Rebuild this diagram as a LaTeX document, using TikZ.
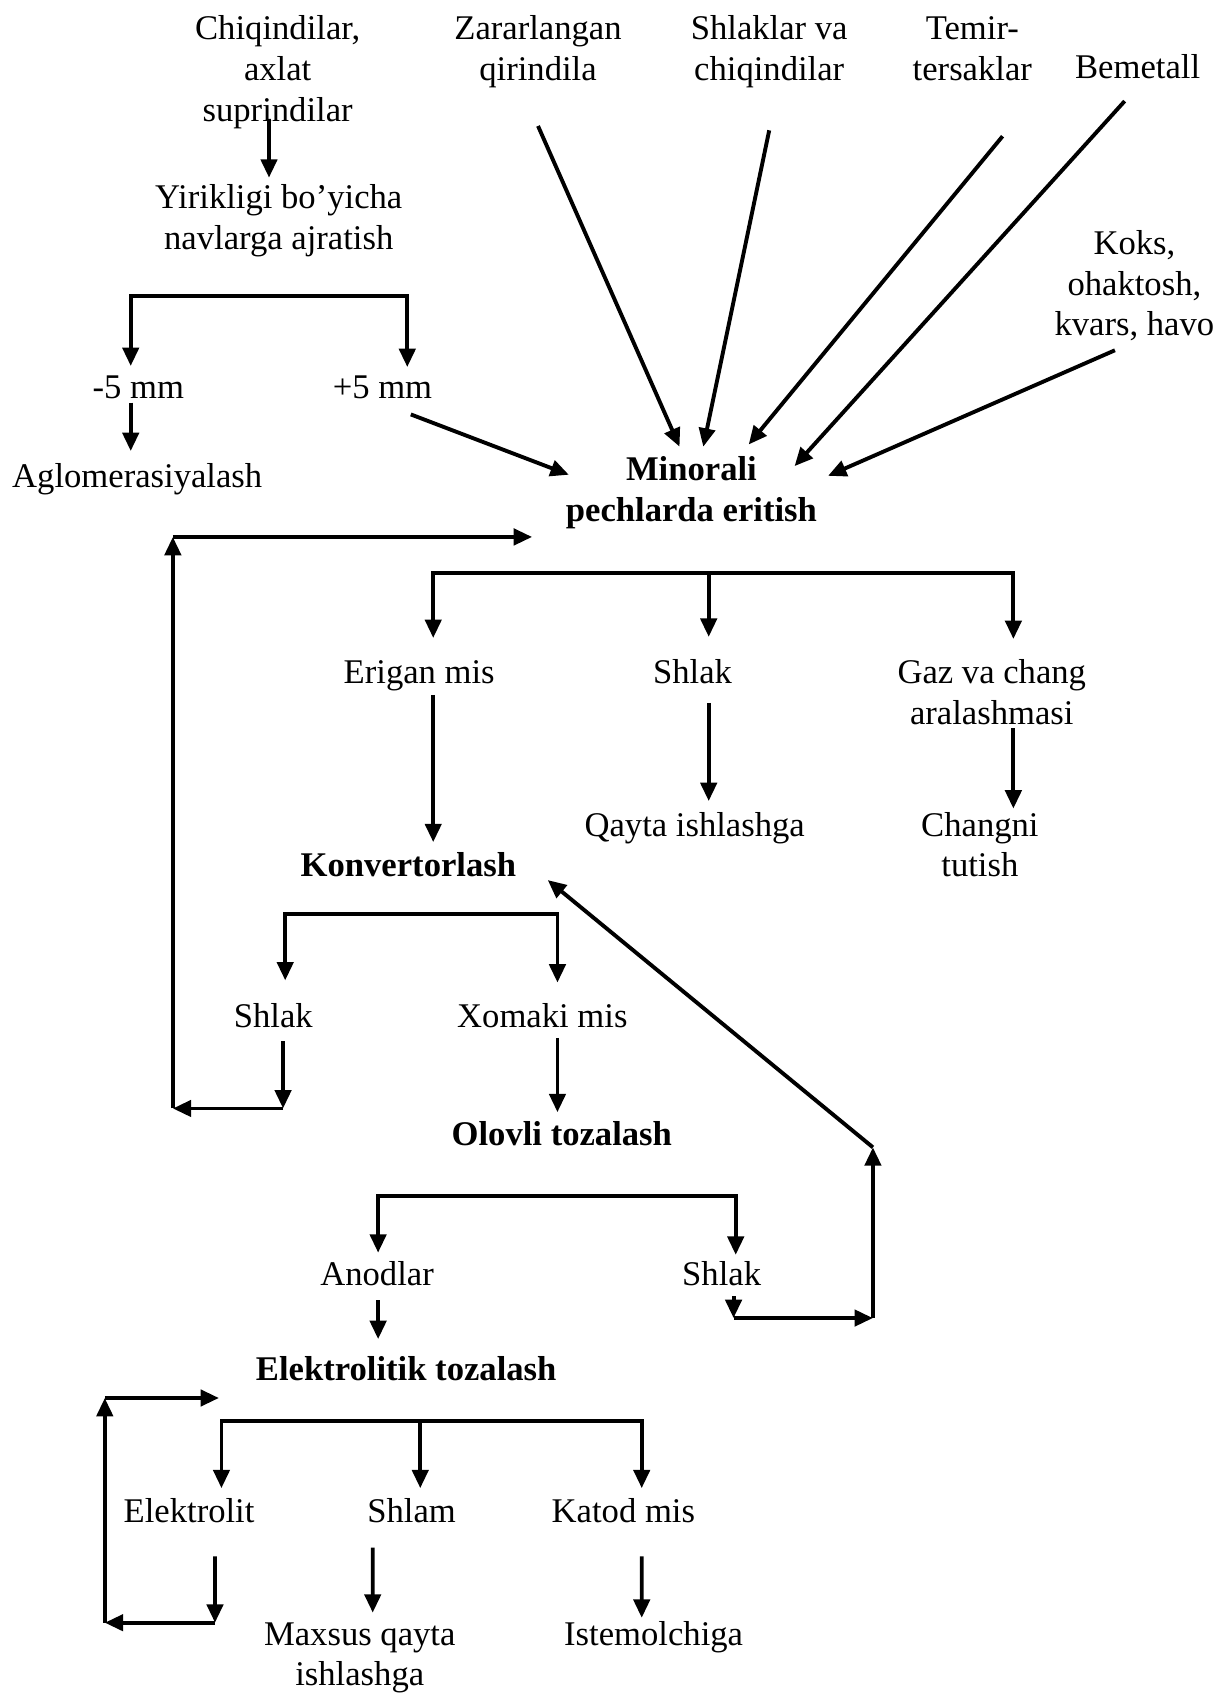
\documentclass[tikz,border=0pt]{standalone}
\usepackage{fontspec}
\setmainfont{Liberation Serif}
\usepackage{tikz}
\usetikzlibrary{arrows.meta}
\newcommand\dfont{\fontsize{22.8pt}{26.7pt}\selectfont}

\begin{document}
\begin{tikzpicture}[
  x=0.25mm,y=-0.25mm,
  font=\dfont,
  t/.style={inner sep=0.75mm,anchor=base,align=center},
  tb/.style={t,font=\dfont\bfseries},
  l/.style={line width=0.9mm,line cap=rect},
  a/.style={line width=0.9mm,-{Triangle[length=4.25mm,width=3.75mm]}},
]
\useasboundingbox (0,0) rectangle (1126,1568);
% --- inputs of the furnace (multi-line nodes sit on their last baseline) ---
\node[t] (chiq) at (257,112) {Chiqindilar,\\axlat\\suprindilar};
\node[t] (zarar) at (498,74.5) {Zararlangan\\qirindila};
\node[t] (shlk) at (712,74.5) {Shlaklar va\\chiqindilar};
\node[t] (temir) at (900,74.5) {Temir-\\tersaklar};
\node[t] (bemet) at (1053,73) {Bemetall};
\node[t] (koks) at (1050,311) {Koks,\\ohaktosh,\\kvars, havo};
\node[t] (yirik) at (258,230.5) {Yirikligi bo’yicha\\navlarga ajratish};
\node[t] (minus) at (128,369) {-5 mm};
\node[t] (plus) at (354,369) {+5 mm};
\node[t] (aglo) at (127,451) {Aglomerasiyalash};
\node[tb] (minor) at (640,482.5) {Minorali\\pechlarda eritish};
% --- products ---
\node[t] (erigan) at (388,633) {Erigan mis};
\node[t] (shlakA) at (641,633) {Shlak};
\node[t] (gaz) at (918,670.5) {Gaz va chang\\aralashmasi};
\node[t] (qayta) at (643,774) {Qayta ishlashga};
\node[t] (chang) at (907,811.5) {Changni\\tutish};
\node[tb] (konv) at (378,811) {Konvertorlash};
\node[t] (shlakB) at (253,951) {Shlak};
\node[t] (xomaki) at (502,951) {Xomaki mis};
\node[tb] (olovli) at (520,1060) {Olovli tozalash};
\node[t] (anod) at (349,1190) {Anodlar};
\node[t] (shlakC) at (668,1190) {Shlak};
\node[tb] (elektro) at (376,1278) {Elektrolitik tozalash};
\node[t] (elit) at (175,1409) {Elektrolit};
\node[t] (shlam) at (381,1409) {Shlam};
\node[t] (katod) at (577,1409) {Katod mis};
\node[t] (maxsus) at (333,1560.5) {Maxsus qayta\\ishlashga};
\node[t] (istem) at (605,1523) {Istemolchiga};

% --- sorting ---
\draw[a] ([shift={(-2mm,3mm)}]chiq.south) -- ([shift={(-2.25mm,0.75mm)}]yirik.north);
\coordinate (y1) at (121,274); \coordinate (y2) at (377,274);
\draw[l] (y1) -- (y2);
\draw[a,shorten >=1.5mm] (y1) -- (y1 |- minus.north);
\draw[a,shorten >=1.25mm] (y2) -- (y2 |- plus.north);
\draw[a,shorten >=2mm] (minus.south -| y1) -- (aglo.north -| y1);
% --- into the furnace ---
\draw[a] ([shift={(-5.75mm,-2.75mm)}]plus.south east) -- ([shift={(1.5mm,-5mm)}]minor.north west);
\draw[a] ([yshift=-8mm]zarar.south) -- ([shift={(-2.75mm,1.5mm)}]minor.north);
\draw[a] ([yshift=-9mm]shlk.south) -- ([shift={(2.75mm,1.5mm)}]minor.north);
\draw[a] ([shift={(7mm,-12mm)}]temir.south) -- ([shift={(13.25mm,2mm)}]minor.north);
\draw[a] ([shift={(-3mm,-4.25mm)}]bemet.south) -- ([shift={(-6mm,-3mm)}]minor.north east);
\draw[a] ([shift={(-4.5mm,-1.25mm)}]koks.south) -- ([shift={(1.75mm,-5.25mm)}]minor.north east);
% --- furnace outputs ---
\coordinate (m1) at (401,530); \coordinate (m2) at (656,530); \coordinate (m3) at (938,530);
\draw[l] (m1) -- (m3);
\draw[a,shorten >=4.5mm] (m1) -- (m1 |- erigan.north);
\draw[a,shorten >=4.5mm] (m2) -- (m2 |- shlakA.north);
\draw[a,shorten >=4mm] (m3) -- (m3 |- gaz.north);
\draw[a,shorten >=1.5mm] (erigan.south -| m1) -- (m1 |- konv.north);
\draw[a,shorten <=3.5mm,shorten >=1.75mm] (shlakA.south -| m2) -- (m2 |- qayta.north);
\draw[a] (gaz.south -| m3) -- (m3 |- chang.north);
% --- converter ---
\coordinate (k1) at (264,846); \coordinate (k2) at (516,846);
\draw[l] (k1) -- (k2);
\draw[a,shorten >=4.5mm] (k1) -- (k1 |- shlakB.north);
\draw[a,shorten >=4mm] (k2) -- (k2 |- xomaki.north);
\draw[a,shorten <=1.5mm,shorten >=1.25mm] (xomaki.south -| k2) -- (k2 |- olovli.north);
\coordinate (f1) at (262,1026); \coordinate (f2) at (160,1026); \coordinate (f3) at (160,497);
\draw[a,shorten <=2.25mm] (shlakB.south -| f1) -- (f1);
\draw[a] (f1) -- (f2);
\draw[a] (f2) -- (f3);
\draw[a] (f3) -- ([xshift=-7mm]f3 -| minor.west);
% --- fire refining ---
\coordinate (o1) at (350,1107); \coordinate (o2) at (681,1107);
\draw[l] (o1) -- (o2);
\draw[a,shorten >=1.25mm] (o1) -- (o1 |- anod.north);
\draw[a,shorten >=0.75mm] (o2) -- (o2 |- shlakC.north);
\draw[a,shorten <=2.5mm,shorten >=3.25mm] (anod.south -| o1) -- (o1 |- elektro.north);
\coordinate (r1) at (679,1220); \coordinate (r2) at (808,1220); \coordinate (r3) at (808,1062);
\draw[a,shorten <=1.5mm] (shlakC.south -| r1) -- (r1);
\draw[a] (r1) -- (r2);
\draw[a] (r2) -- (r3);
\draw[a] (r3) -- ([xshift=6.5mm]konv.south east);
% --- electrolysis ---
\coordinate (e1) at (205,1315); \coordinate (e2) at (389,1315); \coordinate (e3) at (594,1315);
\draw[l] (e1) -- (e3);
\draw[a,shorten >=1.5mm] (e1) -- (e1 |- elit.north);
\draw[a,shorten >=1.5mm] (e2) -- (e2 |- shlam.north);
\draw[a,shorten >=1.5mm] (e3) -- (e3 |- katod.north);
\draw[a,shorten <=5mm,shorten >=1.5mm] ([xshift=-9mm]shlam.south) -- ([xshift=3mm]maxsus.north);
\draw[a,shorten <=7mm] ([xshift=4.25mm]katod.south) -- ([xshift=-2.75mm]istem.north);
\coordinate (c1) at (199,1502); \coordinate (c2) at (97,1502); \coordinate (c3) at (97,1294);
\draw[a,shorten <=7mm] ([xshift=6mm]elit.south) -- (c1);
\draw[a] (c1) -- (c2);
\draw[a] (c2) -- (c3);
\draw[a] (c3) -- ([xshift=-7.75mm]c3 -| elektro.west);
\end{tikzpicture}
\end{document}
